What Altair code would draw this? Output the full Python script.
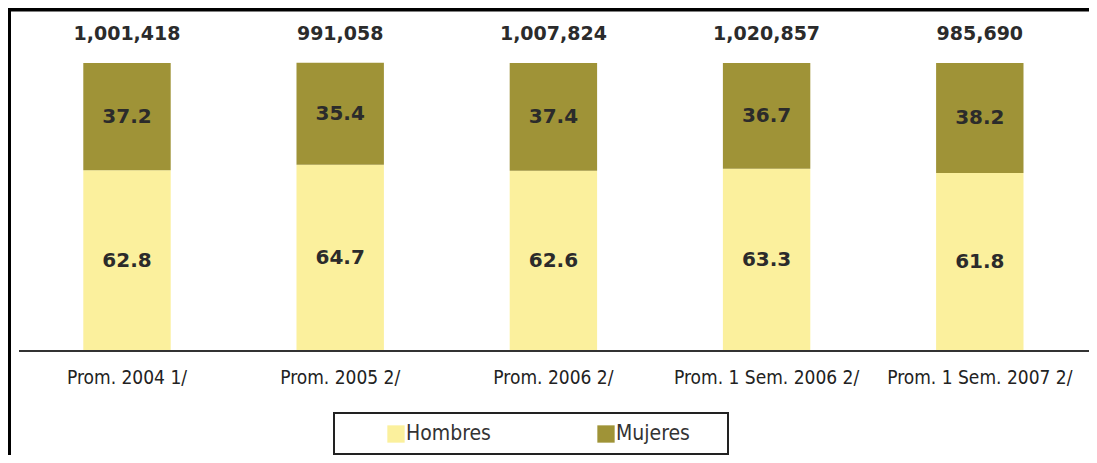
import altair as alt
import pandas as pd

# ---- data ----
categorias = ["Prom. 2004 1/", "Prom. 2005 2/", "Prom. 2006 2/",
              "Prom. 1 Sem. 2006 2/", "Prom. 1 Sem. 2007 2/"]
hombres = [62.8, 64.7, 62.6, 63.3, 61.8]
mujeres = [37.2, 35.4, 37.4, 36.7, 38.2]
totales = ["1,001,418", "991,058", "1,007,824", "1,020,857", "985,690"]
series = ["Hombres", "Mujeres"]
colores = ["#FBF09D", "#9F9337"]

rows = []
for c, h, m in zip(categorias, hombres, mujeres):
    rows.append({"cat": c, "serie": "Hombres", "valor": h, "orden": 0})
    rows.append({"cat": c, "serie": "Mujeres", "valor": m, "orden": 1})
df = pd.DataFrame(rows)
df_tot = pd.DataFrame({"cat": categorias, "total": totales})
df_cat = pd.DataFrame({"cat": categorias})
df_leg = pd.DataFrame({"serie": series})
df_one = pd.DataFrame({"k": [1]})

W, H = 1081, 447
FONT = "DejaVu Sans Condensed, DejaVu Sans"
FONT_B = "DejaVu Sans"

xscale = alt.Scale(domain=categorias, range=[12.4, 1078.4],
                   paddingInner=0.59, paddingOuter=0.295)
yscale = alt.Scale(domain=[0, 100], range=[343, 55], nice=False, zero=True)
cscale = alt.Scale(domain=series, range=colores)

X = alt.X("cat:N", scale=xscale, axis=None, sort=categorias)

stacked = alt.Chart(df).transform_stack(
    stack="valor", groupby=["cat"], as_=["v0", "v1"],
    sort=[alt.SortField("orden", order="ascending")]
).transform_calculate(mid="(datum.v0 + datum.v1) / 2")

bars = stacked.mark_bar().encode(
    x=X,
    y=alt.Y("v0:Q", scale=yscale, axis=None),
    y2="v1:Q",
    color=alt.Color("serie:N", scale=cscale, legend=None),
)

seg_text = stacked.mark_text(
    font=FONT_B, fontWeight="bold", fontSize=20, color="#2b2b2b",
    baseline="middle", align="center"
).encode(
    x=X,
    y=alt.Y("mid:Q", scale=yscale, axis=None),
    text=alt.Text("valor:Q", format=".1f"),
)

tot_text = alt.Chart(df_tot).mark_text(
    font=FONT_B, fontWeight="bold", fontSize=19, color="#2b2b2b",
    baseline="middle", align="center"
).encode(x=X, y=alt.value(26), text="total:N")

cat_text = alt.Chart(df_cat).mark_text(
    font=FONT, fontSize=19, color="#222222",
    baseline="middle", align="center"
).encode(x=X, y=alt.value(370), text="cat:N")

axis_line = alt.Chart(df_one).mark_rule(color="#333333", strokeWidth=2).encode(
    x=alt.value(11), x2=alt.value(1081), y=alt.value(343))

frame_left = alt.Chart(df_one).mark_rule(color="#000000", strokeWidth=4).encode(
    x=alt.value(1), y=alt.value(0), y2=alt.value(H))
frame_top = alt.Chart(df_one).mark_rule(color="#000000", strokeWidth=4).encode(
    x=alt.value(0), x2=alt.value(W), y=alt.value(1.5))

leg_box = alt.Chart(df_one).mark_rect(
    fill="white", stroke="#222222", strokeWidth=2
).encode(x=alt.value(326), x2=alt.value(720), y=alt.value(405), y2=alt.value(446))

LX = alt.X("serie:N", scale=alt.Scale(type="point", domain=series,
                                      range=[388, 598], padding=0), axis=None)
leg_sym = alt.Chart(df_leg).mark_square(size=300, opacity=1).encode(
    x=LX, y=alt.value(426),
    color=alt.Color("serie:N", scale=cscale, legend=None))
leg_txt = alt.Chart(df_leg).mark_text(
    font=FONT, fontSize=21, color="#333333", align="left",
    baseline="middle", dx=10
).encode(x=LX, y=alt.value(426), text="serie:N")

chart = alt.layer(
    frame_left, frame_top, bars, seg_text, tot_text, cat_text, axis_line,
    leg_box, leg_sym, leg_txt
).resolve_scale(x="independent", y="independent", color="shared").properties(
    width=W, height=H,
    autosize=alt.AutoSizeParams(type="none"),
    padding=0,
).configure_view(stroke=None)

chart.save("out.html", embed_options={"renderer": "svg", "actions": False})
